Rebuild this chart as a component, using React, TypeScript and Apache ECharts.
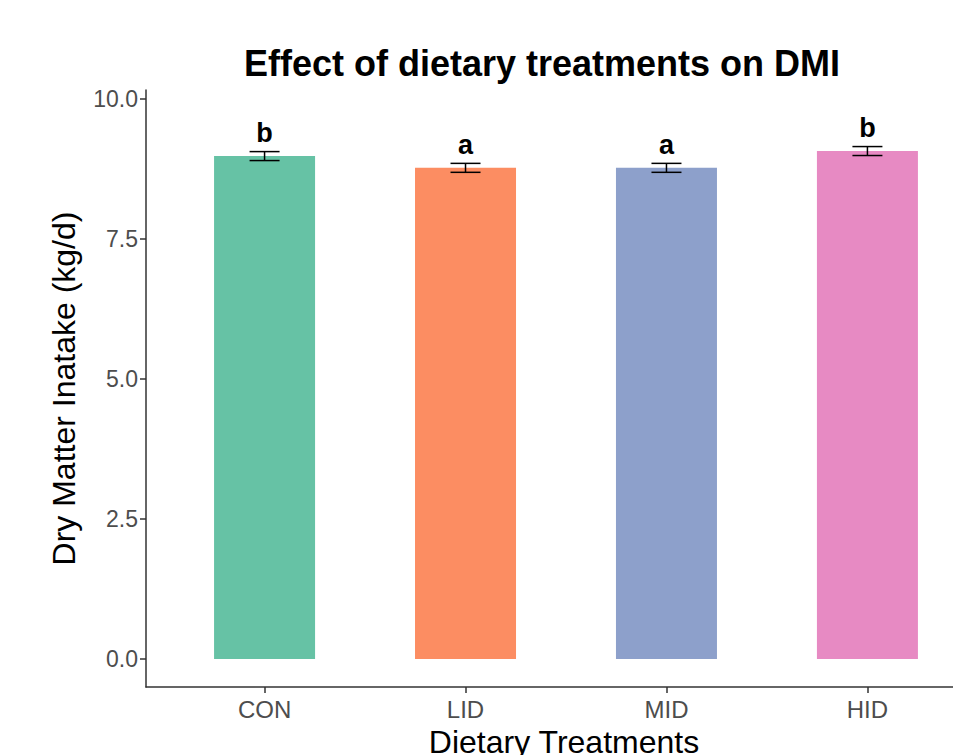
import React, { useEffect, useRef } from "react";
import * as echarts from "echarts";

const categories = ["CON", "LID", "MID", "HID"];
const means = [8.98, 8.77, 8.77, 9.07];
const errors = [0.08, 0.08, 0.08, 0.08];
const letters = ["b", "a", "a", "b"];
const colors = ["#66c2a5", "#fc8d62", "#8da0cb", "#e78ac3"];
const yTicks = [0, 2.5, 5, 7.5, 10];

const FONT = "Liberation Sans, Arial, sans-serif";

export default function App() {
  const ref = useRef<HTMLDivElement>(null);
  useEffect(() => {
    if (!ref.current) return;
    const chart = echarts.init(ref.current, undefined, { renderer: "svg" });
    const xIdx = categories.map((_, i) => i + 1);
    chart.setOption({
      animation: false,
      backgroundColor: "#ffffff",
      title: {
        text: "Effect of dietary treatments on DMI",
        left: 537,
        top: 40,
        textAlign: "center",
        textStyle: { fontFamily: FONT, fontSize: 36, fontWeight: "bold", color: "#000" },
      },
      grid: { left: 146, width: 842, top: 90, bottom: 68, outerBoundsMode: "none", containLabel: false },
      xAxis: {
        type: "value",
        min: 0.41,
        max: 4.6,
        name: "Dietary Treatments",
        nameLocation: "middle",
        nameGap: 0,
        nameTextStyle: { fontFamily: FONT, fontSize: 32, color: "#000", align: "center", verticalAlign: "top", padding: [36, 6, 0, 0] },
        splitLine: { show: false },
        axisLine: { show: true, onZero: false, lineStyle: { color: "#333333", width: 1.5 } },
        axisTick: { show: true, customValues: xIdx, length: 6, lineStyle: { color: "#333333", width: 1.5 } },
        axisLabel: {
          customValues: xIdx,
          formatter: (v: number) => categories[Math.round(v) - 1] ?? "",
          fontFamily: FONT,
          fontSize: 24,
          color: "#4d4d4d",
          margin: 10,
        },
      },
      yAxis: {
        type: "value",
        min: -0.5,
        max: 10.16,
        name: "Dry Matter Inatake (kg/d)",
        nameLocation: "middle",
        nameGap: 66,
        nameTextStyle: { fontFamily: FONT, fontSize: 32, color: "#000" },
        splitLine: { show: false },
        axisLine: { show: true, onZero: false, lineStyle: { color: "#333333", width: 1.5 } },
        axisTick: { show: true, customValues: yTicks, length: 6, lineStyle: { color: "#333333", width: 1.5 } },
        axisLabel: {
          customValues: yTicks,
          formatter: (v: number) => v.toFixed(1),
          fontFamily: FONT,
          fontSize: 23,
          color: "#4d4d4d",
          margin: 8,
        },
      },
      series: [
        {
          type: "bar",
          barWidth: 101,
          z: 2,
          data: means.map((m, i) => ({ value: [xIdx[i], m], itemStyle: { color: colors[i] } })),
        },
        {
          type: "custom",
          z: 5,
          data: means.map((m, i) => [xIdx[i], m, errors[i], i]),
          renderItem: (params: any, api: any) => {
            const x = api.value(0);
            const m = api.value(1);
            const e = api.value(2);
            const i = api.value(3);
            const top = api.coord([x, m + e]);
            const bot = api.coord([x, m - e]);
            const hw = 15;
            const style = { stroke: "#000", lineWidth: 1.5 };
            return {
              type: "group",
              children: [
                { type: "line", shape: { x1: top[0], y1: top[1], x2: bot[0], y2: bot[1] }, style },
                { type: "line", shape: { x1: top[0] - hw, y1: top[1], x2: top[0] + hw, y2: top[1] }, style },
                { type: "line", shape: { x1: bot[0] - hw, y1: bot[1], x2: bot[0] + hw, y2: bot[1] }, style },
                {
                  type: "text",
                  x: top[0],
                  y: top[1] - 5,
                  style: {
                    text: letters[i],
                    fontFamily: FONT,
                    fontSize: 27,
                    fontWeight: "bold",
                    fill: "#000",
                    align: "center",
                    verticalAlign: "bottom",
                  },
                },
              ],
            };
          },
        },
      ],
    });
    return () => chart.dispose();
  }, []);
  return (
    <div
      ref={ref}
      style={{ position: "fixed", left: 0, top: 0, width: 953, height: 755 }}
    />
  );
}
